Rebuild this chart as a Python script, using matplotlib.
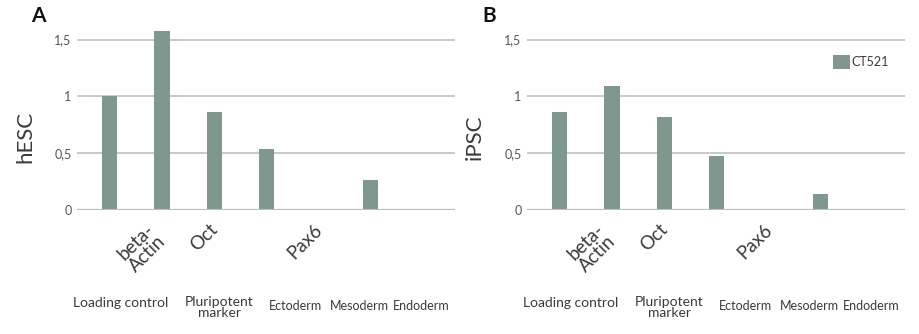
"""Relative marker expression in hESC and iPSC (CT521), two bar panels."""

import matplotlib
matplotlib.use("Agg")
import matplotlib.pyplot as plt
from matplotlib.transforms import ScaledTranslation

# data
markers = ["", "beta-\nActin", "Oct", "", "Pax6", "", ""]
hesc_values = [1.0, 1.58, 0.86, 0.535, 0.0, 0.26, 0.0]
ipsc_values = [0.86, 1.09, 0.82, 0.47, 0.0, 0.14, 0.0]
y_ticks = [0, 0.5, 1, 1.5]
y_tick_labels = ["0", "0,5", "1", "1,5"]
groups = ["Loading control", "Pluripotent\nmarker", "Ectoderm", "Mesoderm", "Endoderm"]
series_name = "CT521"

# layout
BAR_COLOR = "#7f978c"
GRID_COLOR = "#b7c2bd"
TEXT_COLOR = "#3a3a3a"
GROUP_X = [0.2, 2.1, 3.57, 4.79, 5.98]
GROUP_SIZE = [10, 10, 9, 9, 9]
GROUP_Y = [-0.514, -0.475, -0.53, -0.53, -0.53]

plt.rcParams["font.family"] = ["Lato", "DejaVu Sans"]

W, H = 920, 334
fig = plt.figure(figsize=(W / 100, H / 100), dpi=100)
fig.patch.set_facecolor("white")


def panel(left_px, values, ylabel, letter, letter_x, legend=False):
    ax = fig.add_axes([left_px / W, 1 - 209.7 / H, 378 / W, 181.4 / H])
    x = list(range(len(values)))
    ax.bar(x, values, width=0.29, color=BAR_COLOR, zorder=3, label=series_name)
    ax.set_xlim(-0.63, 6.62)
    ax.set_ylim(0, 1.6)
    ax.set_yticks(y_ticks)
    ax.set_yticklabels(y_tick_labels, fontsize=9, color="#555555")
    ax.tick_params(axis="y", length=0, pad=4)
    ax.grid(axis="y", color=GRID_COLOR, linewidth=1.2, zorder=0)
    ax.axhline(0, color=GRID_COLOR, linewidth=1.6, zorder=4)
    for s in ax.spines.values():
        s.set_visible(False)

    ax.set_xticks(x)
    ax.set_xticklabels(markers, rotation=45, ha="right", va="top",
                       fontsize=13.5, color=TEXT_COLOR, linespacing=1.0,
                       multialignment="center")
    ax.tick_params(axis="x", length=0, pad=8)
    shift = ScaledTranslation(7 / 100, 0, fig.dpi_scale_trans)
    for lab in ax.get_xticklabels():
        lab.set_transform(lab.get_transform() + shift)

    ax.set_ylabel(ylabel, fontsize=16, color=TEXT_COLOR)
    ax.yaxis.set_label_coords(-0.111, 0.4)

    for name, gx, gs, gy in zip(groups, GROUP_X, GROUP_SIZE, GROUP_Y):
        ax.text(gx, gy, name, transform=ax.get_xaxis_transform(), ha="center",
                va="center" if "\n" not in name else "top", fontsize=gs,
                color=TEXT_COLOR, linespacing=0.9)

    fig.text(letter_x / W, 1 - 16 / H, letter, fontsize=15, fontweight="bold",
             ha="left", va="center", color="#111111")

    if legend:
        ax.legend(loc="upper left", bbox_to_anchor=(833 / W, 1 - 55 / H),
                  bbox_transform=fig.transFigure, frameon=False, fontsize=9,
                  handlelength=1.35, handleheight=1.35, handletextpad=0.1,
                  borderpad=0, borderaxespad=0, labelcolor=TEXT_COLOR)
    return ax


panel(77, hesc_values, "hESC", "A", 31)
panel(527, ipsc_values, "iPSC", "B", 482, legend=True)

fig.savefig("out.png", dpi=100)
